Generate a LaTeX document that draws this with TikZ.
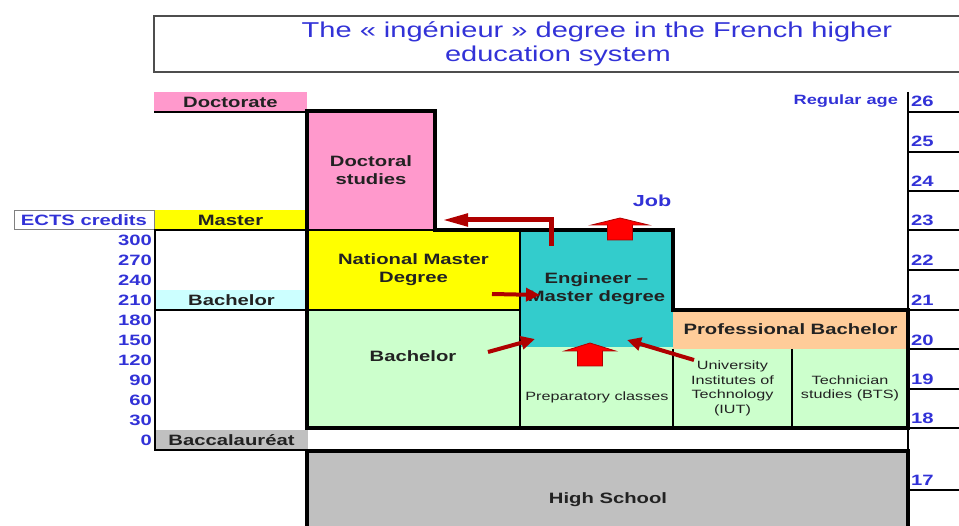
\documentclass[tikz,border=0pt]{standalone}
\usepackage{fontspec}
\setmainfont[FakeStretch=1.35]{Liberation Sans}
\usetikzlibrary{arrows.meta}
\definecolor{titelblauw}{RGB}{50,50,215}
\definecolor{roze}{RGB}{255,153,204}
\definecolor{geel}{RGB}{255,255,0}
\definecolor{lichtcyaan}{RGB}{204,255,255}
\definecolor{lichtgroen}{RGB}{204,255,204}
\definecolor{turkoois}{RGB}{51,204,204}
\definecolor{oranje}{RGB}{255,204,153}
\definecolor{grijs}{RGB}{192,192,192}
\definecolor{pijlrood}{RGB}{175,0,0}
\definecolor{tekst}{RGB}{34,34,34}

% blokpijl omhoog: x, top, onderkant, kopbreedte, schachtbreedte, koplengte
\newcommand\blokpijlop[6]{%
  \filldraw[blokpijl] (#1-#5/2,#3) -- (#1-#5/2,#2+#6) -- (#1-#4/2,#2+#6) -- (#1,#2)
    -- (#1+#4/2,#2+#6) -- (#1+#5/2,#2+#6) -- (#1+#5/2,#3) -- cycle;}

\begin{document}
\begin{tikzpicture}[x=1pt, y=-1pt, line join=miter,
  every node/.style={inner sep=0pt, outer sep=0pt, text=tekst},
  vak/.style={anchor=north west, align=center, font=\fontsize{15}{18}\selectfont\bfseries},
  balk/.style={vak, minimum width=153, minimum height=20},
  klein/.style={align=center, font=\fontsize{12}{14.5}\selectfont},
  blauw/.style={text=titelblauw, font=\fontsize{15}{18}\selectfont\bfseries},
  dik/.style={line width=3.5pt},
  dun/.style={line width=1.5pt},
  pijl/.style={draw=pijlrood, line width=4pt, -{Triangle[length=14pt,width=13pt]}},
  blokpijl/.style={fill=red, draw=pijlrood, line width=0.8pt}]
  \useasboundingbox (0,0) rectangle (959,526);

  % titel
  \draw[line width=2pt, draw=tekst!80] (154,16) rectangle (975,72);
  \node[text=titelblauw, font=\fontsize{21.5}{24}\selectfont] (titel1) at (597,32)
    {The « ingénieur » degree in the French higher};
  \node[text=titelblauw, font=\fontsize{21.5}{24}\selectfont] (titel2) at (558,56)
    {education system};

  % balken links
  \node[balk, fill=roze] (doctorate) at (154,92) {Doctorate};
  \node[balk, fill=geel] (master) at (154,210) {Master};
  \node[balk, fill=lichtcyaan] (bachelorbalk) at (155,290) {Bachelor};
  \node[balk, fill=grijs] (bac) at (155,430) {Baccalauréat};
  \node[blauw, draw=gray, line width=1pt, minimum width=140, minimum height=19,
    anchor=north west] (ects) at (14,211) {ECTS credits};

  % ECTS punten
  \foreach \v [count=\i from 0] in {300,270,...,0}
    \node[blauw, anchor=east] (ects\v) at (152,240+20*\i) {\v};

  % opleidingen
  \node[vak, fill=roze, minimum width=128, minimum height=119] (docstudie) at (307,111) {Doctoral\\studies};
  \node[vak, fill=geel, minimum width=213, minimum height=80] (natmaster) at (307,230) {National Master\\Degree};
  \node[vak, fill=lichtgroen, minimum width=213, minimum height=118] (bachelor) at (307,310) {};
  \node[vak, anchor=center] (bachelortxt) at (413,356) {Bachelor};
  \node[vak, fill=turkoois, minimum width=153, minimum height=117] (ingenieur) at (520,230) {Engineer –\\Master degree};
  \node[vak, fill=lichtgroen, minimum width=153, minimum height=81] (prepa) at (520,347) {};
  \node[klein] (prepatxt) at (597,397) {Preparatory classes};
  \node[vak, fill=oranje, minimum width=235, minimum height=39] (profbach) at (673,310) {Professional Bachelor};
  \node[vak, klein, anchor=north west, fill=lichtgroen, minimum width=119, minimum height=79] (iut) at (673,349)
    {University\\Institutes of\\Technology\\(IUT)};
  \node[vak, klein, anchor=north west, fill=lichtgroen, minimum width=116, minimum height=79] (bts) at (792,349)
    {Technician\\studies (BTS)};
  \node[vak, fill=grijs, draw, dik, minimum width=601, minimum height=100] (lyceum) at (307,451) {};
  \node[vak, anchor=center] (lyceumtxt) at (608,500) {High School};

  % dunne lijnen
  \draw[dun] (154,112) -- (307,112);
  \draw[dun] (154,230) -- (435,230);
  \draw[dun] (155,310) -- (520,310);
  \draw[dun] (155,230) -- (155,450) -- (307,450);
  \draw[dun] (520,230) -- (520,428);
  \draw[dun] (673,349) -- (673,428);
  \draw[dun] (792,349) -- (792,428);

  % dikke omtrek
  \draw[dik] (307,428) -- (307,111) -- (435,111) -- (435,230) -- (673,230)
    -- (673,310) -- (908,310) -- (908,428) -- cycle;

  % leeftijden
  \draw[line width=2pt] (908,92) -- (908,526);
  \foreach \y in {112,152,191,230,270,310,349,389,428,490}
    \draw[line width=1.2pt] (908,\y) -- (959,\y);
  \foreach \a/\y in {26/101,25/141,24/181,23/220,22/260,21/300,20/340,19/379,18/418,17/480}
    \node[blauw, anchor=west] (leeftijd\a) at (911,\y) {\a};
  \node[blauw, font=\fontsize{13.5}{16}\selectfont\bfseries, anchor=east] (regage) at (898,101) {Regular age};
  \node[blauw, font=\fontsize{16}{18}\selectfont\bfseries] (job) at (652,201) {Job};

  % pijlen
  \coordinate (naardoc0) at (551,246);
  \coordinate (naardoc1) at (551,220);
  \coordinate (naardoc2) at (442,220);
  \coordinate (uitmaster) at (492,294);
  \coordinate (inmaster) at (540,295);
  \coordinate (uitbach) at (488,352);
  \coordinate (inbach) at (535,339);
  \coordinate (uitiut) at (694,360);
  \coordinate (iniut) at (627,340);
  \draw[pijl, line width=5pt, -{Triangle[length=26pt,width=12pt]}] (naardoc0) -- (naardoc1) -- (naardoc2);
  \draw[pijl] (uitmaster) -- (inmaster);
  \draw[pijl] (uitbach) -- (inbach);
  \draw[pijl] (uitiut) -- (iniut);
  \blokpijlop{620}{218}{240}{57}{25}{7}
  \blokpijlop{590}{343}{366}{51}{25}{8}
\end{tikzpicture}
\end{document}
